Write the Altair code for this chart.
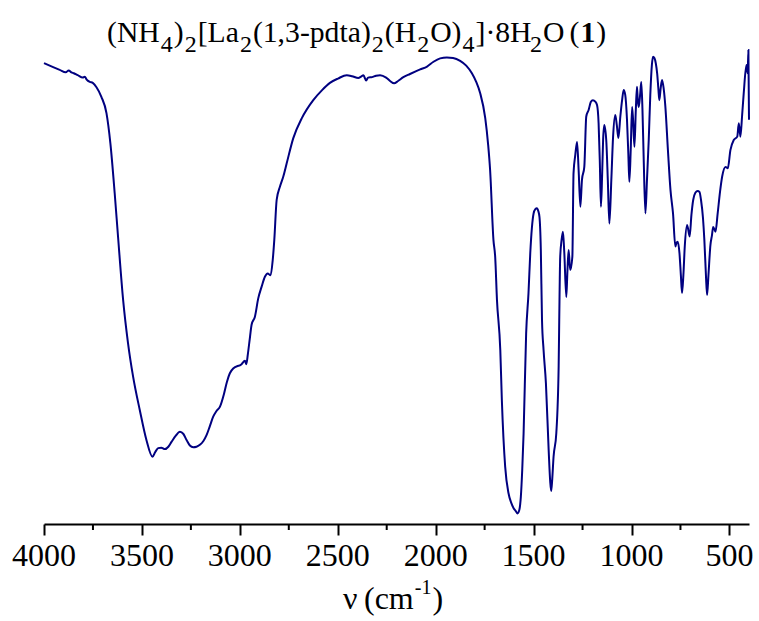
import altair as alt
import pandas as pd

# IR spectrum (wavenumber in cm^-1, transmittance in arbitrary % units)
wavenumber = [
    4000, 3920, 3889, 3874, 3860, 3848, 3828, 3802, 3792, 3782,
    3766, 3751, 3732, 3707, 3681, 3661, 3639, 3622, 3596, 3571,
    3545, 3511, 3477, 3446, 3432, 3417, 3401, 3383, 3365, 3349,
    3327, 3306, 3288, 3272, 3255, 3238, 3221, 3204, 3186, 3170,
    3153, 3136, 3120, 3102, 3081, 3066, 3051, 3034, 2991, 2974,
    2967, 2959, 2948, 2940, 2923, 2906, 2889, 2872, 2858, 2843,
    2832, 2824, 2812, 2795, 2778, 2761, 2727, 2684, 2625, 2580,
    2540, 2499, 2454, 2427, 2395, 2381, 2369, 2355, 2345, 2325,
    2304, 2284, 2253, 2233, 2212, 2192, 2165, 2131, 2079, 2044,
    2011, 1977, 1943, 1911, 1875, 1844, 1815, 1793, 1773, 1747,
    1732, 1722, 1705, 1696, 1687, 1670, 1662, 1645, 1628, 1614,
    1602, 1591, 1582, 1573, 1565, 1558, 1551, 1538, 1526, 1517,
    1500, 1491, 1483, 1476, 1470, 1463, 1457, 1449, 1437, 1423,
    1415, 1410, 1405, 1398, 1384, 1372, 1369, 1364, 1357, 1350,
    1343, 1333, 1327, 1321, 1313, 1302, 1296, 1287, 1278, 1270,
    1261, 1253, 1241, 1231, 1219, 1208, 1197, 1185, 1176, 1168,
    1162, 1156, 1150, 1145, 1139, 1129, 1121, 1113, 1103, 1094,
    1083, 1075, 1067, 1057, 1048, 1040, 1032, 1023, 1016, 1011,
    1004, 997, 992, 985, 978, 972, 968, 963, 956, 950,
    944, 938, 929, 921, 912, 904, 896, 890, 883, 876,
    869, 863, 858, 851, 844, 836, 827, 814, 801, 788,
    776, 771, 764, 755, 748, 742, 735, 728, 716, 703,
    694, 685, 674, 662, 653, 645, 635, 628, 620, 614,
    607, 597, 589, 583, 571, 560, 548, 537, 520, 508,
    495, 478, 460, 452, 444, 435, 427, 413, 407, 403,
    400,
]
transmittance = [
    96.0, 94.6, 94.1, 94.5, 94.1, 93.9, 93.5, 93.0, 93.2, 92.6,
    92.1, 91.9, 91.0, 89.0, 85.6, 79.3, 68.9, 59.9, 46.7, 37.7,
    30.7, 23.75, 17.5, 14.0, 15.0, 15.8, 15.9, 15.6, 16.1, 17.1,
    18.4, 19.2, 18.75, 17.5, 16.35, 16.0, 16.1, 16.5, 17.3, 18.5,
    20.4, 22.35, 23.5, 24.4, 27.1, 29.6, 31.4, 32.4, 33.3, 34.0,
    33.3, 35.4, 39.0, 41.5, 43.2, 47.0, 49.4, 51.5, 52.2, 51.8,
    55.0, 59.2, 67.5, 70.3, 72.4, 75.1, 80.4, 84.5, 88.3, 90.4,
    91.9, 92.8, 93.5, 93.3, 92.9, 93.2, 93.5, 92.4, 93.0, 93.1,
    93.4, 93.5, 93.0, 92.3, 91.8, 92.3, 93.1, 93.75, 94.7, 95.3,
    96.3, 97.0, 97.2, 97.1, 96.5, 95.5, 93.9, 92.1, 89.8, 84.6,
    79.0, 73.75, 59.2, 55.6, 46.7, 36.25, 25.8, 11.9, 6.4, 4.4,
    3.3, 2.7, 2.2, 2.9, 5.7, 11.25, 18.9, 39.7, 48.1, 56.4,
    64.7, 65.6, 65.8, 65.2, 64.0, 57.1, 42.5, 36.25, 29.3, 15.4,
    8.75, 6.9, 9.2, 14.0, 18.9, 32.8, 42.5, 55.7, 59.2, 60.9,
    56.4, 47.3, 52.9, 57.1, 52.9, 55.7, 73.1, 76.9, 79.6, 73.75,
    66.1, 71.7, 74.4, 84.9, 86.25, 87.9, 88.3, 88.0, 87.3, 83.5,
    75.8, 66.1, 72.7, 80.0, 83.1, 80.0, 71.7, 62.6, 71.7, 80.7,
    85.2, 83.1, 80.4, 84.9, 88.3, 90.4, 89.4, 84.2, 76.9, 71.3,
    77.9, 86.9, 84.2, 78.6, 86.25, 91.1, 88.3, 86.9, 89.4, 92.1,
    86.25, 76.5, 64.7, 71.7, 80.0, 89.4, 95.6, 97.35, 97.1, 96.0,
    93.9, 90.8, 88.3, 90.8, 92.5, 90.8, 86.9, 77.9, 69.6, 64.7,
    57.8, 58.5, 58.8, 56.4, 51.9, 48.1, 51.9, 57.8, 62.3, 59.9,
    64.4, 67.5, 69.0, 69.4, 69.2, 67.5, 63.75, 59.2, 51.9, 47.7,
    51.9, 58.1, 60.2, 61.9, 60.9, 64.7, 69.2, 72.4, 74.4, 74.1,
    77.9, 80.0, 80.7, 83.5, 80.7, 85.2, 89.7, 95.6, 93.9, 98.75,
    84.2,
]
assert len(wavenumber) == len(transmittance)

major_ticks = [4000, 3500, 3000, 2500, 2000, 1500, 1000, 500]
major_labels = ["4000", "3500", "3000", "2500", "2000", "1500", "1000", "500"]
minor_ticks = [3750, 3250, 2750, 2250, 1750, 1250, 750]

# (text, style, extra space after in px)
title_segments = [
    ("(NH", "n", 1), ("4", "s", 1), (")", "n", 1), ("2", "s", 1), ("[La", "n", 1), ("2", "s", 1),
    ("(1,3-pdta)", "n", 1), ("2", "s", 1), ("(H", "n", 1), ("2", "s", 1), ("O)", "n", 1),
    ("4", "s", 1), ("]·8H", "n", 1), ("2", "s", 1), ("O", "n", 5), ("(", "n", 1),
    ("1", "b", 1), (")", "n", 0),
]
xtitle_segments = [("ν", "n", 5), ("(cm", "n", 1), ("-1", "p", 1), (")", "n", 0)]

FONT = "Liberation Serif"
W, H = 705, 480
COLOR = "#000080"

# Times-metric advance widths (em) for positioning text pieces
ADV = {'(': .333, ')': .333, 'N': .722, 'H': .722, '[': .333, ']': .333, 'L': .611,
       'a': .444, ',': .25, '-': .333, 'p': .5, 'd': .5, 't': .278, 'O': .722,
       '·': .25, ' ': .25, 'c': .444, 'm': .778, 'ν': .5}


def text_width(s, size):
    return sum(ADV.get(ch, 0.5) for ch in s) * size


def text_layers(segments, x0, y_base, styles):
    layers = []
    x = x0
    for txt, kind, gap in segments:
        size, dy, weight = styles[kind]
        layers.append(
            alt.Chart(alt.Data(values=[{}])).mark_text(
                text=txt, font=FONT, fontSize=size, fontWeight=weight,
                align="left", baseline="alphabetic", color="black",
            ).encode(x=alt.value(x), y=alt.value(y_base + dy))
        )
        x += text_width(txt, size) + gap
    return layers


df = pd.DataFrame({"wn": wavenumber, "T": transmittance})

x_scale = alt.Scale(domain=[400, 4000], reverse=True, nice=False, zero=False)
x_axis = alt.Axis(values=major_ticks, title=None, grid=False, labels=False,
                  tickSize=11, tickWidth=2, tickColor="black",
                  domainColor="black", domainWidth=2)

line = alt.Chart(df).mark_line(color=COLOR, strokeWidth=2, interpolate="monotone").encode(
    x=alt.X("wn:Q", scale=x_scale, axis=x_axis),
    y=alt.Y("T:Q", scale=alt.Scale(domain=[0, 100], nice=False), axis=None),
)

minor = alt.Chart(pd.DataFrame({"wn": minor_ticks})).mark_rule(
    color="black", strokeWidth=2
).encode(x=alt.X("wn:Q", scale=x_scale, axis=x_axis), y=alt.value(H), y2=alt.value(H + 6))

tick_labels = alt.Chart(pd.DataFrame({"wn": major_ticks, "lab": major_labels})).mark_text(
    font=FONT, fontSize=32, color="black", align="center", baseline="alphabetic"
).encode(x=alt.X("wn:Q", scale=x_scale, axis=x_axis), y=alt.value(H + 42), text="lab:N")

title_styles = {"n": (29.7, 0, "normal"), "s": (24, 10, "normal"), "b": (29.7, 0, "bold")}
xtitle_styles = {"n": (32, 0, "normal"), "p": (20, -15, "normal")}

layers = [line, minor, tick_labels]
layers += text_layers(title_segments, 63, -2, title_styles)
layers += text_layers(xtitle_segments, 299, 565, xtitle_styles)

chart = alt.layer(*layers).properties(
    width=W, height=H,
    autosize=alt.AutoSizeParams(type="none"),
    padding={"left": 44, "top": 44, "right": 10, "bottom": 97},
    background="white",
).configure_view(stroke=None)

chart.save("out.html", embed_options={"renderer": "svg", "actions": False})
